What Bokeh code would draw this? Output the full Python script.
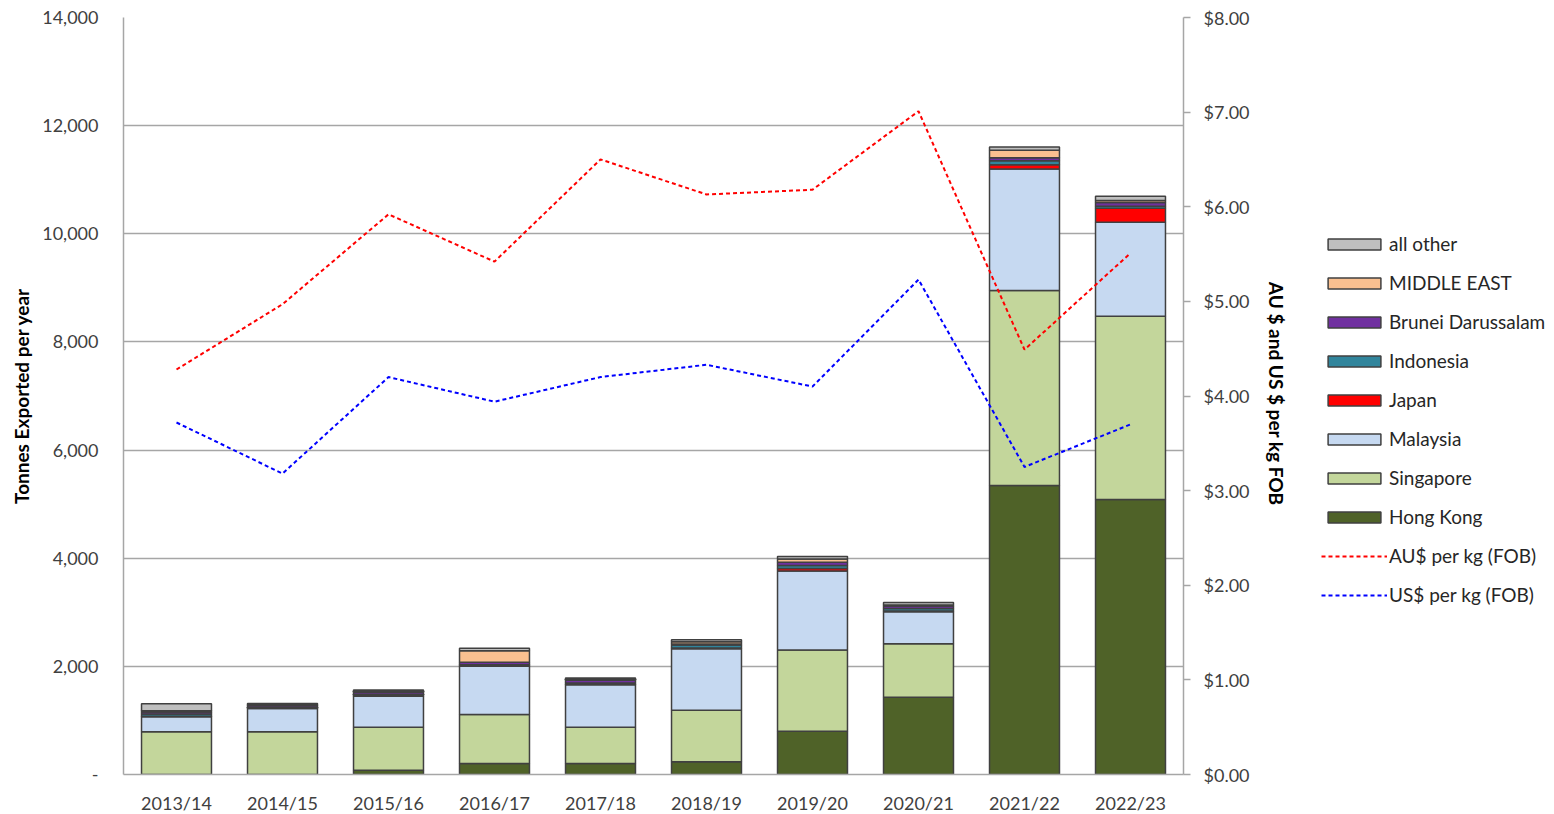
from bokeh.plotting import figure
from bokeh.layouts import row
from bokeh.transform import dodge
from bokeh.models import (FactorRange, Range1d, LinearAxis, FixedTicker, CustomJSTickFormatter,
                          Legend, LegendItem, ColumnDataSource)
from bokeh.embed import file_html
from bokeh.resources import INLINE

years = ["2013/14", "2014/15", "2015/16", "2016/17", "2017/18", "2018/19",
         "2019/20", "2020/21", "2021/22", "2022/23"]

hong_kong = [0, 0, 80, 203, 203, 235, 800, 1429, 5344, 5085]
singapore = [790, 790, 795, 906, 671, 954, 1503, 987, 3605, 3389]
malaysia = [277, 430, 573, 893, 784, 1135, 1461, 592, 2250, 1738]
japan = [10, 5, 10, 10, 10, 15, 45, 15, 80, 259]
indonesia = [40, 20, 25, 20, 25, 55, 55, 46, 70, 37]
brunei = [40, 30, 40, 43, 50, 20, 60, 46, 55, 70]
middle_east = [20, 10, 15, 215, 20, 40, 60, 20, 140, 37]
all_other = [130, 30, 25, 45, 20, 40, 50, 45, 62, 78]

aud_per_kg = [4.28, 4.97, 5.92, 5.42, 6.50, 6.13, 6.18, 7.01, 4.49, 5.51]
usd_per_kg = [3.72, 3.18, 4.20, 3.94, 4.20, 4.33, 4.10, 5.23, 3.25, 3.70]

left_ticks = [0, 2000, 4000, 6000, 8000, 10000, 12000, 14000]
right_ticks = [0, 1, 2, 3, 4, 5, 6, 7, 8]

series_names = ["Hong Kong", "Singapore", "Malaysia", "Japan", "Indonesia",
                "Brunei Darussalam", "MIDDLE EAST", "all other"]
series_values = [hong_kong, singapore, malaysia, japan, indonesia, brunei, middle_east, all_other]
colors = ["#4F6228", "#C3D69B", "#C6D9F1", "#FF0000", "#31859C", "#7030A0", "#FAC090", "#BFBFBF"]
line_names = ["AU$ per kg (FOB)", "US$ per kg (FOB)"]
line_cols = ["aud", "usd"]
line_colors = ["#FF0000", "#0000FF"]

data = {"year": years, "aud": aud_per_kg, "usd": usd_per_kg}
keys = []
for i, (n, v) in enumerate(zip(series_names, series_values)):
    k = "s%d" % i
    keys.append(k)
    data[k] = v
source = ColumnDataSource(data)

FONT = "Lato"
GRID = "#A6A6A6"
TXT = "#404040"
OUTLINE = "#404040"

p = figure(x_range=FactorRange(*years), y_range=Range1d(0, 14000),
           frame_width=1060, frame_height=757,
           min_border_left=123, min_border_right=110, min_border_top=17, min_border_bottom=28,
           output_backend="svg", toolbar_location=None)
p.x_range.range_padding = 0
p.outline_line_color = None
p.background_fill_color = "white"

p.extra_y_ranges = {"price": Range1d(0, 8)}

bars = p.vbar_stack(keys, x="year", width=0.66, source=source, color=colors,
                    line_color=OUTLINE, line_width=1.5)

for col, c in zip(line_cols, line_colors):
    p.line("year", col, source=source, y_range_name="price", line_color=c,
           line_width=2, line_dash="4 3")

# grid
p.xgrid.grid_line_color = None
p.ygrid.ticker = FixedTicker(ticks=left_ticks)
p.ygrid.grid_line_color = GRID
p.ygrid.grid_line_width = 1.5

# left axis
ya = p.yaxis[0]
ya.ticker = FixedTicker(ticks=left_ticks)
ya.formatter = CustomJSTickFormatter(code="return tick == 0 ? '-' : tick.toLocaleString('en-US');")
ya.axis_label = "Tonnes Exported per year"
ya.axis_label_text_font = FONT
ya.axis_label_text_font_style = "bold"
ya.axis_label_text_font_size = "19px"
ya.axis_label_text_color = "#000000"
ya.axis_label_standoff = 6
ya.major_label_text_font = FONT
ya.major_label_text_font_size = "18px"
ya.major_label_text_color = TXT
ya.axis_line_color = GRID
ya.axis_line_width = 1.5
ya.major_tick_line_color = None
ya.minor_tick_line_color = None
ya.major_label_standoff = 19

# right axis
ra = LinearAxis(y_range_name="price", ticker=FixedTicker(ticks=right_ticks),
                formatter=CustomJSTickFormatter(code="return '$' + tick.toFixed(2);"))
ra.axis_label = "AU $  and US $ per kg FOB"
ra.axis_label_text_font = FONT
ra.axis_label_text_font_style = "bold"
ra.axis_label_text_font_size = "19px"
ra.axis_label_text_color = "#000000"
ra.axis_label_standoff = 12
ra.major_label_text_font = FONT
ra.major_label_text_font_size = "18px"
ra.major_label_text_color = TXT
ra.axis_line_color = GRID
ra.axis_line_width = 1.5
ra.major_tick_line_color = GRID
ra.major_tick_line_width = 1.5
ra.major_tick_out = 7
ra.major_tick_in = 0
ra.minor_tick_line_color = None
ra.major_label_standoff = 13
p.add_layout(ra, "right")

# x axis
xa = p.xaxis[0]
xa.major_label_text_font = FONT
xa.major_label_text_font_size = "18px"
xa.major_label_text_color = TXT
xa.axis_line_color = GRID
xa.axis_line_width = 1.5
xa.major_tick_line_color = None
xa.major_label_standoff = 11

# legend panel: a figure beside the chart; its glyphs use the same data but lie outside its view
lg = figure(frame_width=270, frame_height=757, min_border_left=0, min_border_right=0,
            min_border_top=17, min_border_bottom=28, x_range=FactorRange(*years),
            y_range=Range1d(-20000, -10000),
            x_axis_location=None, y_axis_location=None, output_backend="svg",
            toolbar_location=None)
lg.outline_line_color = None
lg.grid.grid_line_color = None

off_x = dodge("year", 1000, range=lg.x_range)
items = []
for idx in reversed(range(len(series_names))):
    r = lg.rect(x=off_x, y=keys[idx], width=0.5, height=1, source=source, fill_color=colors[idx],
                line_color=OUTLINE, line_width=1.5)
    items.append(LegendItem(label=series_names[idx], renderers=[r]))
for name, col, c in zip(line_names, line_cols, line_colors):
    r = lg.line(x=off_x, y=col, source=source, line_color=c, line_width=2, line_dash="4 3")
    items.append(LegendItem(label=name, renderers=[r]))

legend = Legend(items=items, location=(28, 168), orientation="vertical",
                glyph_width=66, glyph_height=14, label_standoff=2,
                label_text_font=FONT, label_text_font_size="19px", label_text_color="#262626",
                label_height=22, spacing=16, padding=10, margin=0,
                border_line_color=None, background_fill_alpha=0)
lg.add_layout(legend, "center")

layout = row(p, lg)
open("out.html", "w").write(file_html(layout, INLINE))
